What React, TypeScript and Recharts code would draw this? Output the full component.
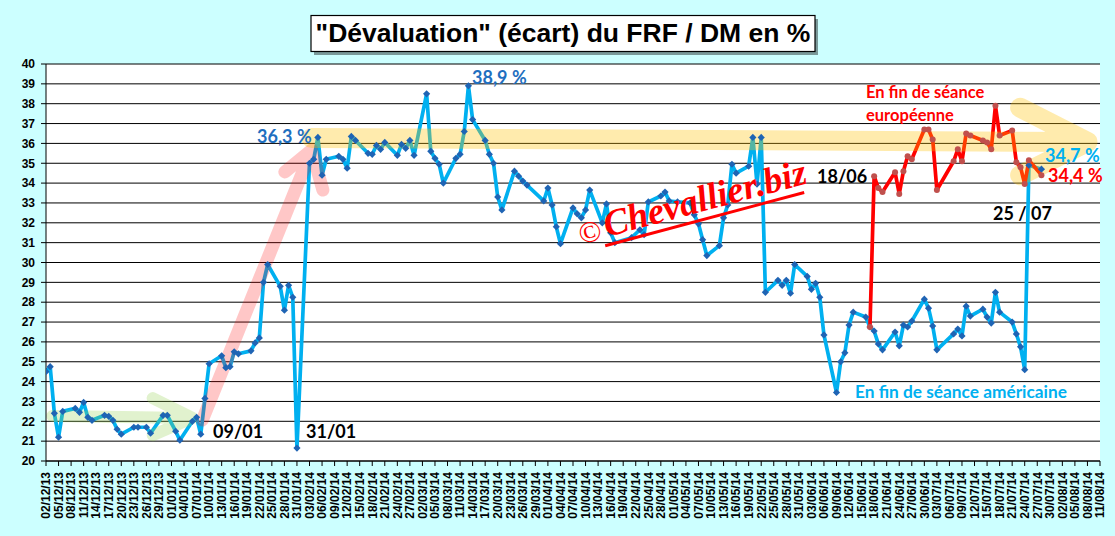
import React from 'react';
import { LineChart, Line, XAxis, YAxis, CartesianGrid } from 'recharts';

const tickLabels = [
  '02/12/13', '05/12/13', '08/12/13', '11/12/13', '14/12/13', '17/12/13', '20/12/13', '23/12/13', '26/12/13', '29/12/13',
  '01/01/14', '04/01/14', '07/01/14', '10/01/14', '13/01/14', '16/01/14', '19/01/14', '22/01/14', '25/01/14', '28/01/14', '31/01/14',
  '03/02/14', '06/02/14', '09/02/14', '12/02/14', '15/02/14', '18/02/14', '21/02/14', '24/02/14', '27/02/14',
  '02/03/14', '05/03/14', '08/03/14', '11/03/14', '14/03/14', '17/03/14', '20/03/14', '23/03/14', '26/03/14', '29/03/14',
  '01/04/14', '04/04/14', '07/04/14', '10/04/14', '13/04/14', '16/04/14', '19/04/14', '22/04/14', '25/04/14', '28/04/14',
  '01/05/14', '04/05/14', '07/05/14', '10/05/14', '13/05/14', '16/05/14', '19/05/14', '22/05/14', '25/05/14', '28/05/14', '31/05/14',
  '03/06/14', '06/06/14', '09/06/14', '12/06/14', '15/06/14', '18/06/14', '21/06/14', '24/06/14', '27/06/14', '30/06/14',
  '03/07/14', '06/07/14', '09/07/14', '12/07/14', '15/07/14', '18/07/14', '21/07/14', '24/07/14', '27/07/14', '30/07/14',
  '02/08/14', '05/08/14', '08/08/14', '11/08/14',
];
const tickStepDays = 3;
const tickDays = tickLabels.map((_, i) => i * tickStepDays);
const yTicks = [20, 21, 22, 23, 24, 25, 26, 27, 28, 29, 30, 31, 32, 33, 34, 35, 36, 37, 38, 39, 40];

// days counted from 02/12/13
const americanDays = [
  0, 1, 2, 3, 4, 7, 8, 9, 10, 11, 14, 15, 16, 17, 18, 21, 22, 24, 25, 28, 29, 31, 32, 35, 36, 37, 38, 39,
  42, 43, 44, 45, 46, 49, 50, 51, 52, 53, 56, 57, 58, 59, 60, 63, 64, 65, 66, 67, 70, 71, 72, 73, 74,
  77, 78, 79, 80, 81, 84, 85, 86, 87, 88, 91, 92, 93, 94, 95, 98, 99, 100, 101, 102, 105, 106, 107, 108, 109,
  112, 113, 114, 115, 119, 120, 121, 122, 123, 126, 127, 128, 129, 130, 133, 134, 135, 136, 140, 142, 143, 144,
  147, 148, 149, 151, 154, 155, 156, 157, 158, 161, 162, 163, 164, 165, 168, 169, 170, 171, 172,
  175, 176, 177, 178, 179, 182, 183, 184, 185, 186, 189, 190, 191, 192, 193, 196, 197, 198, 199, 200,
  203, 204, 205, 206, 207, 210, 211, 212, 213, 217, 218, 219, 220, 221, 224, 225, 226, 227, 228,
  231, 232, 233, 234, 235, 238,
];
const americanValues = [
  24.5, 24.75, 22.4, 21.2, 22.5, 22.65, 22.45, 22.95, 22.2, 22.05, 22.3, 22.25, 22.05, 21.6, 21.35, 21.7, 21.7, 21.7, 21.4, 22.3, 22.3, 21.5, 21.05, 22.0, 22.2, 21.35, 23.15, 24.9,
  25.3, 24.7, 24.75, 25.5, 25.4, 25.55, 25.95, 26.2, 29.0, 29.9, 28.8, 27.6, 28.85, 28.25, 20.65, 35.0, 35.2, 36.3, 34.4, 35.2, 35.35, 35.2, 34.75, 36.35, 36.15,
  35.5, 35.45, 35.9, 35.7, 36.05, 35.4, 35.95, 35.75, 36.15, 35.4, 38.5, 35.6, 35.25, 34.95, 34.0, 35.25, 35.45, 36.6, 38.9, 37.2, 36.15, 35.45, 35.0, 33.3, 32.65,
  34.6, 34.35, 34.1, 33.9, 33.1, 33.75, 32.9, 31.8, 30.95, 32.75, 32.45, 32.25, 32.65, 33.65, 32.0, 32.95, 31.5, 31.0, 31.25, 31.65, 31.4, 33.05,
  33.35, 33.55, 33.1, 33.05, 33.0, 32.4, 31.95, 31.15, 30.35, 30.85, 32.25, 32.9, 34.95, 34.5, 34.85, 36.3, 33.95, 36.3, 28.5,
  29.1, 28.85, 29.1, 28.45, 29.9, 29.3, 28.65, 28.95, 28.25, 26.35, 23.45, 25.0, 25.45, 26.85, 27.5, 27.25, 26.75, 26.55, 25.9, 25.6,
  26.5, 25.8, 26.85, 26.75, 27.05, 28.15, 27.7, 26.8, 25.6, 26.4, 26.65, 26.3, 27.8, 27.3, 27.65, 27.25, 26.95, 28.5, 27.5,
  27.0, 26.4, 25.75, 24.6, 34.9, 34.7,
];

const europeanDays = [
  197, 198, 199, 200, 203, 204, 205, 206, 207, 210, 211, 212, 213, 217, 218, 219, 220, 221,
  224, 225, 226, 227, 228, 231, 232, 233, 234, 235, 238,
];
const europeanValues = [
  26.75, 34.35, 33.75, 33.55, 34.55, 33.45, 34.6, 35.35, 35.2, 36.7, 36.7, 36.2, 33.65, 35.1, 35.7, 35.1, 36.5, 36.4,
  36.15, 36.05, 35.7, 37.9, 36.4, 36.65, 35.05, 34.8, 33.95, 35.15, 34.4,
];

// decorative translucent arrows, in chart units [day, %]
const greenArrow = [[1.5, 22.27], [35, 22.17], [25.5, 23.17], [35, 22.17], [25.5, 21.3]];
const pinkArrow = [[37.4, 22.07], [63.5, 35.67], [57.1, 34.56], [63.5, 35.67], [66.2, 33.65]];
const yellowArrow = [[63.5, 36.27], [249, 36.07], [232.9, 37.8], [249, 36.07], [232.9, 34.4]];

const toSeries = (days: number[], values: number[]) => days.map((d, i) => ({ d, v: values[i] }));
const toPath = (pts: number[][]) => pts.map(([d, v]) => ({ d, v }));

const americanData = toSeries(americanDays, americanValues);
const europeanData = toSeries(europeanDays, europeanValues);

const W = 1115;
const H = 536;

const Diamond = (props: any) => {
  const { cx, cy } = props;
  if (cx == null || cy == null) return null;
  const s = 3.6;
  return <polygon points={`${cx},${cy - s} ${cx + s},${cy} ${cx},${cy + s} ${cx - s},${cy}`} fill="#1F64B4" />;
};
const Dot = (props: any) => {
  const { cx, cy } = props;
  if (cx == null || cy == null) return null;
  return <circle cx={cx} cy={cy} r={3} fill="#C0504D" />;
};

const XTick = (props: any) => {
  const { x, y, payload } = props;
  const idx = Math.round(payload.value / tickStepDays);
  return (
    <text
      transform={`translate(${x + 4.3},${y + 4}) rotate(-90)`}
      textAnchor="end"
      fontSize={12}
      fontWeight="bold"
      fontFamily="'Liberation Sans', Arial, sans-serif"
      fill="#000"
    >
      {tickLabels[idx]}
    </text>
  );
};

const lato = "Lato, 'Open Sans', sans-serif";

export default function App() {
  return (
    <div style={{ position: 'absolute', left: 0, top: 0, width: W, height: H, background: '#CCFFFF' }}>
      <LineChart width={W} height={H} margin={{ top: 64, right: 15, bottom: 0, left: 0 }}>
        <CartesianGrid vertical={false} stroke="#000" strokeWidth={1} fill="#FFFFFF" fillOpacity={1} />
        <XAxis
          dataKey="d"
          type="number"
          domain={[0, 252]}
          allowDataOverflow
          ticks={tickDays}
          interval={0}
          height={75}
          tickSize={5}
          stroke="#000"
          tickLine={{ stroke: '#000' }}
          axisLine={{ stroke: '#000' }}
          tick={<XTick />}
        />
        <YAxis
          type="number"
          domain={[20, 40]}
          ticks={yTicks}
          interval={0}
          width={46}
          tickSize={5}
          tickMargin={6}
          axisLine={{ stroke: '#000' }}
          tickLine={{ stroke: '#000' }}
          tick={{ fontSize: 12, fontWeight: 'bold', fill: '#000', fontFamily: "'Liberation Sans', Arial, sans-serif" }}
        />
        <Line
          data={americanData}
          dataKey="v"
          type="linear"
          stroke="#00B0F0"
          strokeWidth={3.7}
          dot={<Diamond />}
          activeDot={false}
          isAnimationActive={false}
          strokeLinejoin="round"
        />
        <Line
          data={europeanData}
          dataKey="v"
          type="linear"
          stroke="#FF0000"
          strokeWidth={3.7}
          dot={<Dot />}
          activeDot={false}
          isAnimationActive={false}
          strokeLinejoin="round"
        />
        <Line
          data={toPath(greenArrow)}
          dataKey="v"
          type="linear"
          stroke="#92D050"
          strokeOpacity={0.28}
          strokeWidth={12}
          strokeLinecap="round"
          strokeLinejoin="round"
          dot={false}
          activeDot={false}
          isAnimationActive={false}
        />
        <Line
          data={toPath(pinkArrow)}
          dataKey="v"
          type="linear"
          stroke="#FF0000"
          strokeOpacity={0.22}
          strokeWidth={13}
          strokeLinecap="round"
          strokeLinejoin="round"
          dot={false}
          activeDot={false}
          isAnimationActive={false}
        />
        <Line
          data={toPath(yellowArrow)}
          dataKey="v"
          type="linear"
          stroke="#FFC000"
          strokeOpacity={0.32}
          strokeWidth={20}
          strokeLinecap="round"
          strokeLinejoin="round"
          dot={false}
          activeDot={false}
          isAnimationActive={false}
        />
      </LineChart>
      <svg width={W} height={H} style={{ position: 'absolute', left: 0, top: 0, pointerEvents: 'none' }}>
        <rect x={314} y={19} width={504} height={36} fill="#000" opacity={0.4} />
        <rect x={311} y={15.5} width={504} height={36} fill="#FFFFFF" stroke="#000" strokeWidth={1.2} />
        <text x={563} y={42} textAnchor="middle" fontSize={26.5} fontWeight="bold" fontFamily="'Liberation Sans', Arial, sans-serif" fill="#000">
          "Dévaluation" (écart) du FRF / DM en %
        </text>

        <text x={257} y={143} fontSize={18} fontWeight="bold" fontFamily={lato} fill="#1F6FBF">36,3 %</text>
        <text x={472} y={84} fontSize={18} fontWeight="bold" fontFamily={lato} fill="#1F6FBF">38,9 %</text>
        <text x={213} y={438} fontSize={18} fontWeight="bold" fontFamily={lato} fill="#000">09/01</text>
        <text x={306} y={438} fontSize={18} fontWeight="bold" fontFamily={lato} fill="#000">31/01</text>
        <text x={817} y={183} fontSize={18} fontWeight="bold" fontFamily={lato} fill="#000">18/06</text>
        <text x={993} y={220} fontSize={18} fontWeight="bold" fontFamily={lato} fill="#000">25 / 07</text>
        <text x={1045} y={162} fontSize={18} fontWeight="bold" fontFamily={lato} fill="#00B0F0">34,7 %</text>
        <text x={1048} y={182} fontSize={18} fontWeight="bold" fontFamily={lato} fill="#FF0000">34,4 %</text>
        <text x={866} y={98} fontSize={16.5} fontWeight="bold" fontFamily={lato} fill="#FF0000">En fin de séance</text>
        <text x={866} y={121} fontSize={16.5} fontWeight="bold" fontFamily={lato} fill="#FF0000">européenne</text>
        <text x={855} y={398} fontSize={17.3} fontWeight="bold" fontFamily={lato} fill="#00B0F0">En fin de séance américaine</text>

        <g transform="translate(607 237) rotate(-15)">
          <text x={0} y={0} fontSize={37} fontStyle="italic" fontWeight="bold" fontFamily="'Liberation Serif', serif" fill="#FF0000">Chevallier.biz</text>
          <line x1={-4} y1={8} x2={202} y2={8} stroke="#FF0000" strokeWidth={3} />
        </g>
        <text x={590} y={242} fontSize={30} textAnchor="middle" fontFamily="'Liberation Serif', serif" fill="#FF0000" transform="rotate(-15 590 232)">©</text>
      </svg>
    </div>
  );
}
